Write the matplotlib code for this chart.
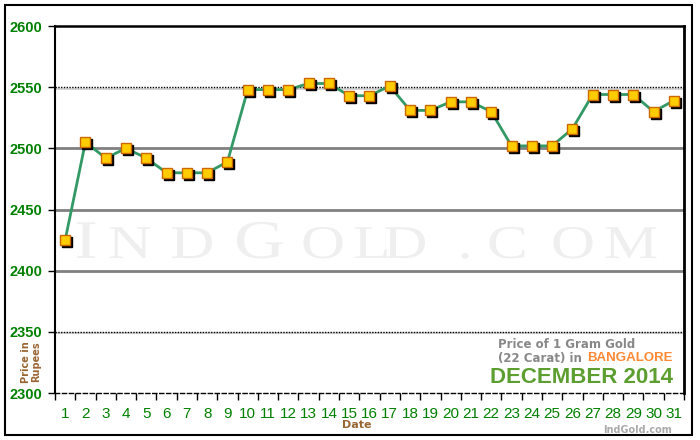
import matplotlib
matplotlib.use('Agg')
import matplotlib.pyplot as plt
import matplotlib.transforms as mtransforms
from matplotlib.patches import Rectangle, PathPatch
from matplotlib.textpath import TextPath
from matplotlib.font_manager import FontProperties
from matplotlib import font_manager

# data
days = [str(d) for d in range(1, 32)]
prices = [2425, 2505, 2492, 2500, 2492, 2480, 2480, 2480, 2489, 2548,
          2548, 2548, 2553, 2553, 2543, 2543, 2551, 2531, 2531, 2538,
          2538, 2530, 2502, 2502, 2502, 2516, 2544, 2544, 2544, 2530,
          2539]
y_ticks = [2300, 2350, 2400, 2450, 2500, 2550, 2600]

GREEN_TXT = '#008000'
BROWN = '#996633'
LINE_GREEN = '#339966'

names = {f.name for f in font_manager.fontManager.ttflist}
NARROW = 'Liberation Sans Narrow' if 'Liberation Sans Narrow' in names else 'Liberation Sans'

W, H = 700, 440
fig = plt.figure(figsize=(7, 4.4), dpi=100)
fig.patch.set_facecolor('white')

# outer border
fig.patches.append(Rectangle((5 / W, 5 / H), 687 / W, 430 / H,
                             transform=fig.transFigure, fill=False,
                             edgecolor='black', linewidth=1.5))

ax = fig.add_axes([55 / W, 47 / H, 629 / W, 367 / H])
x = list(range(len(days)))
ax.set_xlim(-0.5, len(days) - 0.5)
ax.set_ylim(2300, 2600)

# grid lines
for v in [2400, 2450, 2500]:
    ax.axhline(v, color='#808080', linewidth=2, zorder=1)
below = ax.get_yaxis_transform() + mtransforms.ScaledTranslation(0, -1.5 / 100, fig.dpi_scale_trans)
for v in [2350, 2550]:
    ax.plot([0, 1], [v, v], color='#cccccc', linewidth=1.2, zorder=1, transform=below)
    ax.axhline(v, color='black', linewidth=1, linestyle=(0, (1, 1)), zorder=1)

# watermark (small caps, stretched wide)
serif = FontProperties(family='Liberation Serif')
wm = [('I', 86, 36), ('N', 130, 31), ('D', 192, 31), ('G', 260, 36), ('O', 323, 31),
      ('L', 371, 31), ('D', 405, 31), ('.', 465, 31), ('C', 507, 31), ('O', 573, 31),
      ('M', 631, 31)]
for ch, px, cap in wm:
    tp = TextPath((0, 0), ch, size=cap / 0.66, prop=serif)
    ext = tp.get_extents()
    sx = 1.3
    cx = (ext.x0 + ext.x1) / 2
    tr = (mtransforms.Affine2D().translate(-cx, 0).scale(sx, 1)
          .translate(px, H - 258).scale(1 / W, 1 / H) + fig.transFigure)
    fig.patches.append(PathPatch(tp, transform=tr, facecolor='#efefef',
                                 edgecolor='none', zorder=0))

# line + markers with shadow
shadow = mtransforms.offset_copy(ax.transData, fig=fig, x=2, y=-2, units='dots')
ax.plot(x, prices, color=LINE_GREEN, linewidth=2, zorder=3)
ax.plot(x, prices, linestyle='none', marker='s', markersize=6.5,
        color='black', transform=shadow, zorder=4)
ax.plot(x, prices, linestyle='none', marker='s', markersize=6.5,
        markerfacecolor='#ffcc00', markeredgecolor='#cc6600',
        markeredgewidth=1, zorder=5)

# spines
ax.spines['top'].set_linewidth(1.8)
ax.spines['left'].set_linewidth(1.5)
ax.spines['right'].set_linewidth(2)
ax.spines['bottom'].set_linestyle((0, (3, 2)))
ax.spines['bottom'].set_linewidth(1)
ax.patch.set_alpha(0)

# ticks
ax.set_yticks(y_ticks)
ax.set_yticklabels([str(v) for v in y_ticks], color=GREEN_TXT, fontweight='bold',
                   fontsize=10.5, family='Liberation Sans')
ax.tick_params(axis='y', length=5, width=1, pad=4, direction='out')
ax.set_xticks(x)
ax.set_xticklabels(days, color=GREEN_TXT, fontsize=11, family=NARROW)
ax.set_xticks([i - 0.5 for i in range(len(days) + 1)], minor=True)
ax.tick_params(axis='x', which='major', length=0, pad=10)
ax.tick_params(axis='x', which='minor', length=5, width=1, direction='out')

# labels
fig.text(357 / W, (H - 425) / H, 'Date', ha='center', va='center',
         fontsize=8, fontweight='bold', color=BROWN)
fig.text(31 / W, (H - 362) / H, 'Price in\nRupees', ha='center', va='center',
         rotation=90, fontsize=7, fontweight='bold', color=BROWN, linespacing=1.0)
fig.text(672 / W, (H - 430) / H, 'IndGold.com', ha='right', va='center',
         fontsize=7, fontweight='bold', color='#aaaaaa')

# title block
fig.text(498 / W, (H - 344) / H, 'Price of 1 Gram Gold', ha='left', va='center',
         fontsize=8.5, fontweight='bold', color='#888888')
fig.text(498 / W, (H - 358) / H, '(22 Carat) in', ha='left', va='center',
         fontsize=8.5, fontweight='bold', color='#888888')
fig.text(673 / W, (H - 358) / H, 'BANGALORE', ha='right', va='center',
         fontsize=9.5, fontweight='bold', color='#ff8833', family=NARROW)
fig.text(582 / W, (H - 377) / H, 'DECEMBER 2014', ha='center', va='center',
         fontsize=16, fontweight='bold', color='#5c9e30', family=NARROW)

fig.savefig('out.png', dpi=100, facecolor='white')
